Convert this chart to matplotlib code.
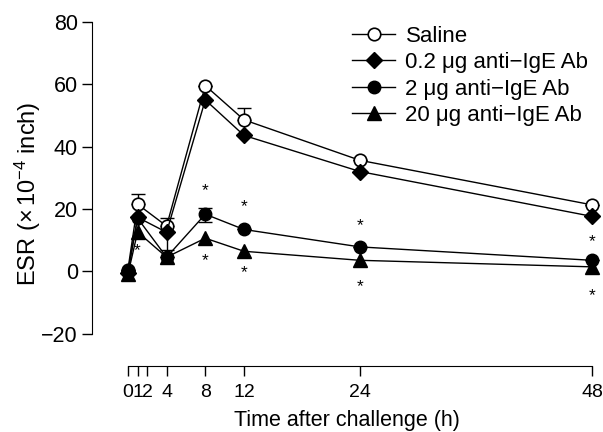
import matplotlib
matplotlib.use('Agg')
import matplotlib.pyplot as plt

plt.rcParams['font.family'] = ['Liberation Sans', 'DejaVu Sans']
plt.rcParams['mathtext.fontset'] = 'custom'
plt.rcParams['mathtext.rm'] = 'Liberation Sans'
plt.rcParams['mathtext.it'] = 'Liberation Sans:italic'

# hours after challenge
hours = [0, 1, 4, 8, 12, 24, 48]
tick_hours = [0, 1, 2, 4, 8, 12, 24, 48]

saline = [0.5, 21.5, 14.5, 59.6, 48.6, 35.6, 21.3]
anti_02 = [-0.5, 17.3, 12.5, 55.0, 43.6, 32.0, 17.6]
anti_2 = [0.0, 17.0, 4.5, 18.3, 13.4, 7.8, 3.5]
anti_20 = [-1.0, 12.6, 4.5, 10.6, 6.4, 3.5, 1.4]

# error bars (lower, upper)
saline_err = [[0, 0, 0, 0, 0, 0, 0], [0, 3.3, 2.5, 0, 3.7, 0, 0]]
anti_02_err = [[0, 0, 5.8, 0, 0, 0, 0], [0, 0, 0, 0, 0, 0, 0]]
anti_2_err = [[0, 0, 0, 2.5, 0, 0, 0], [0, 0, 0, 2.0, 0, 0, 0]]

# significance asterisks (hour, y)
star_x = [1, 8, 8, 12, 12, 24, 24, 48, 48]
star_y = [6.5, 26, 3.3, 20.8, -0.5, 14.5, -5, 9.4, -7.7]

labels = ['Saline', '0.2 \u03bcg anti\u2212IgE Ab', '2 \u03bcg anti\u2212IgE Ab',
          '20 \u03bcg anti\u2212IgE Ab']

fig = plt.figure(figsize=(6.03, 4.32), dpi=100)
ax = fig.add_axes([0.152, 0.153, 0.846, 0.796])

ax.errorbar(hours, saline, yerr=saline_err, fmt='none', ecolor='black',
            elinewidth=1, capsize=5, capthick=1, zorder=2)
ax.errorbar(hours, anti_02, yerr=anti_02_err, fmt='none', ecolor='black',
            elinewidth=1, capsize=5, capthick=1, zorder=2)
ax.errorbar(hours, anti_2, yerr=anti_2_err, fmt='none', ecolor='black',
            elinewidth=1, capsize=5, capthick=1, zorder=2)

ax.plot(hours, anti_20, color='black', lw=1, marker='^', ms=10,
        mfc='black', mec='black', label=labels[3], zorder=3, clip_on=False)
ax.plot(hours, saline, color='black', lw=1, marker='o', ms=9,
        mfc='white', mec='black', mew=1.2, label=labels[0], zorder=4, clip_on=False)
ax.plot(hours, anti_02, color='black', lw=1, marker='D', ms=8,
        mfc='black', mec='black', label=labels[1], zorder=5, clip_on=False)
ax.plot(hours, anti_2, color='black', lw=1, marker='o', ms=9,
        mfc='black', mec='black', label=labels[2], zorder=6, clip_on=False)

for sx, sy in zip(star_x, star_y):
    ax.text(sx, sy, '*', ha='center', va='center', fontsize=12.5)

ax.set_xlim(-3.75, 49)
ax.set_ylim(-30.4, 80)
ax.set_xticks(tick_hours)
ax.set_xticklabels([str(h) for h in tick_hours])
ax.set_yticks([-20, 0, 20, 40, 60, 80])
ax.set_yticklabels(['\u221220', '0', '20', '40', '60', '80'])
ax.spines['top'].set_visible(False)
ax.spines['right'].set_visible(False)
ax.spines['left'].set_bounds(-20, 80)
ax.spines['bottom'].set_bounds(0, 48)
ax.tick_params(axis='both', direction='out', length=7, width=1,
               labelsize=15.5, pad=3)
ax.tick_params(axis='x', pad=6, labelsize=14)

ax.set_xlabel('Time after challenge (h)', fontsize=15.5, labelpad=6.5)
ax.set_ylabel('ESR ($\\times\\,$10$^{\u22124}$ inch)', fontsize=17, labelpad=-1)

handles, labs = ax.get_legend_handles_labels()
order = [1, 2, 3, 0]
ax.legend([handles[i] for i in order], [labs[i] for i in order],
          loc='upper left', bbox_to_anchor=(0.584, 0.94),
          bbox_transform=fig.transFigure, frameon=False,
          fontsize=16, handlelength=1.95, handletextpad=0.45, labelspacing=0.24,
          borderaxespad=0.0, borderpad=0.0)

fig.savefig('out.png', dpi=100)
